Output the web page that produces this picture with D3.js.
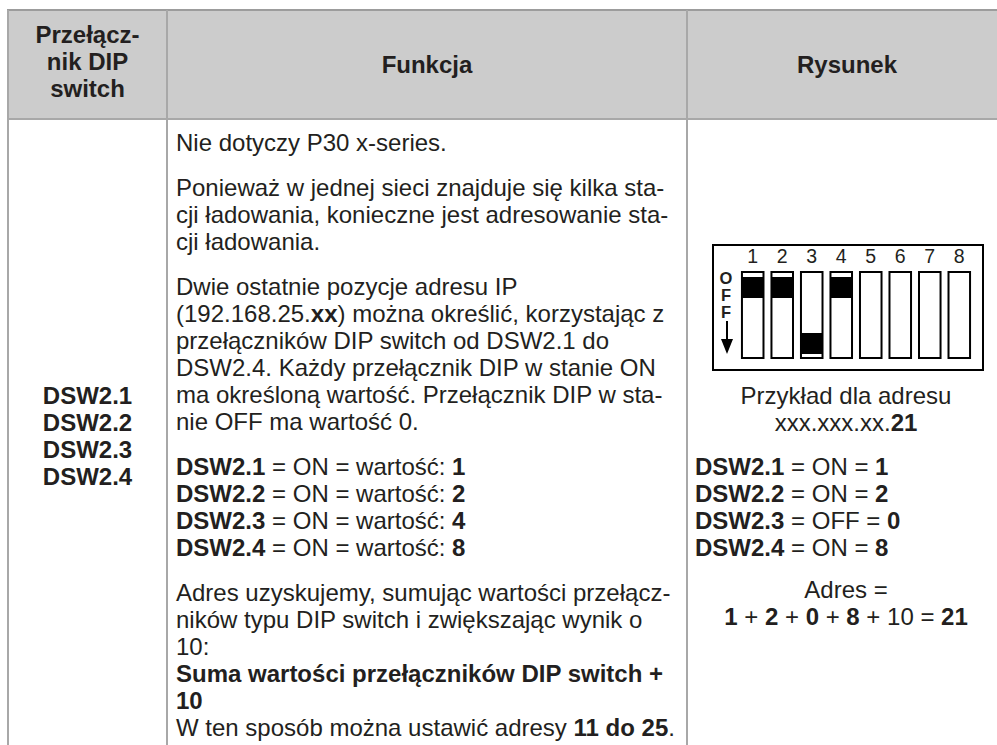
<!DOCTYPE html>
<html><head><meta charset="utf-8">
<script src="https://cdn.jsdelivr.net/npm/d3@7"></script>
<style>
html,body{margin:0;padding:0;background:#fff;}
svg{display:block;}
text{font-family:"Liberation Sans",Arial,Helvetica,sans-serif;fill:#231f20;white-space:pre;}
</style></head>
<body>
<svg id="c" width="997" height="745"></svg>
<script>
// ---- data ----
const headerCol1 = ["Przełącz-", "nik DIP", "switch"];
const headerCol2 = "Funkcja";
const headerCol3 = "Rysunek";
const leftLabels = ["DSW2.1", "DSW2.2", "DSW2.3", "DSW2.4"];
const funcParagraphs = [
  ["Nie dotyczy P30 x-series."],
  ["Ponieważ w jednej sieci znajduje się kilka sta-",
   "cji ładowania, konieczne jest adresowanie sta-",
   "cji ładowania."],
  ["Dwie ostatnie pozycje adresu IP",
   "(192.168.25.**xx**) można określić, korzystając z",
   "przełączników DIP switch od DSW2.1 do",
   "DSW2.4. Każdy przełącznik DIP w stanie ON",
   "ma określoną wartość. Przełącznik DIP w sta-",
   "nie OFF ma wartość 0."],
  ["**DSW2.1** = ON = wartość: **1**",
   "**DSW2.2** = ON = wartość: **2**",
   "**DSW2.3** = ON = wartość: **4**",
   "**DSW2.4** = ON = wartość: **8**"],
  ["Adres uzyskujemy, sumując wartości przełącz-",
   "ników typu DIP switch i zwiększając wynik o",
   "10:",
   "**Suma wartości przełączników DIP switch +**",
   "**10**",
   "W ten sposób można ustawić adresy **11 do 25**."]
];
const switchNumbers = ["1","2","3","4","5","6","7","8"];
const switchStates = ["ON","ON","OFF","ON",null,null,null,null];
const offLetters = ["O","F","F"];
const captionLines = ["Przykład dla adresu", "xxx.xxx.xx.**21**"];
const exampleLines = ["**DSW2.1** = ON = **1**", "**DSW2.2** = ON = **2**", "**DSW2.3** = OFF = **0**", "**DSW2.4** = ON = **8**"];
const sumLines = ["Adres =", "**1** + **2** + **0** + **8** + 10 = **21**"];

// ---- layout ----
const svg = d3.select("#c");
const W = 997, H = 745;
const colX = [8, 167, 687, 1007];
const tableTop = 10, headerBottom = 119;
const FS = 24, HFS = 24, LH = 27, PG = 18;
const borderColor = "#a8a8a8";

function seg(str){
  return str.split("**").map((t,i)=>({t, b: i%2===1})).filter(d=>d.t.length);
}
function richText(g, str, x, y, anchor, size, allBold){
  const t = g.append("text").attr("x", x).attr("y", y)
    .attr("text-anchor", anchor).attr("font-size", size);
  t.selectAll("tspan").data(seg(str)).join("tspan")
    .attr("font-weight", d => (d.b || allBold) ? "bold" : "normal")
    .text(d => d.t);
  return t;
}

// header background
svg.append("rect").attr("x", colX[0]).attr("y", tableTop)
  .attr("width", W - colX[0]).attr("height", headerBottom - tableTop)
  .attr("fill", "#cccccc");

// borders
const grid = svg.append("g").attr("stroke", borderColor).attr("stroke-width", 2).attr("fill", "none");
grid.append("line").attr("x1", colX[0]-1).attr("x2", W).attr("y1", tableTop).attr("y2", tableTop).attr("stroke", "#9c9c9c");
grid.append("line").attr("x1", colX[0]).attr("x2", W).attr("y1", headerBottom).attr("y2", headerBottom);
colX.slice(0,3).forEach(x => grid.append("line").attr("x1", x).attr("x2", x).attr("y1", tableTop).attr("y2", H));

// header text
const hdr = svg.append("g");
headerCol1.forEach((s,i) => richText(hdr, s, (colX[0]+colX[1])/2, 43 + i*LH, "middle", HFS, true));
richText(hdr, headerCol2, (colX[1]+colX[2])/2, 73, "middle", HFS, true);
richText(hdr, headerCol3, (colX[2]+colX[3])/2, 73, "middle", HFS, true);

// left column labels
const left = svg.append("g");
leftLabels.forEach((s,i) => richText(left, s, (colX[0]+colX[1])/2, 404 + i*LH, "middle", FS, true));

// function column
const fn = svg.append("g");
let y = 151;
funcParagraphs.forEach((p, pi) => {
  if (pi > 0) y += PG;
  p.forEach(line => { richText(fn, line, colX[1] + 9, y, "start", FS, false); y += LH; });
});

// DIP switch figure
const fig = svg.append("g");
const box = {x: 713, y: 245, w: 270, h: 125};
fig.append("rect").attr("x", box.x).attr("y", box.y).attr("width", box.w).attr("height", box.h)
  .attr("fill", "#fff").attr("stroke", "#000").attr("stroke-width", 2);
const sx = d3.scaleBand().domain(switchNumbers).range([739, 973]).paddingInner(0.27).paddingOuter(0.1);
const slotTop = 272, slotBot = 358;
const slots = fig.selectAll("g.slot").data(switchNumbers.map((n,i)=>({n, s: switchStates[i]}))).join("g");
slots.append("rect").attr("x", d => sx(d.n)).attr("y", slotTop)
  .attr("width", sx.bandwidth()).attr("height", slotBot - slotTop)
  .attr("fill", "#fff").attr("stroke", "#000").attr("stroke-width", 2);
slots.filter(d => d.s).append("rect")
  .attr("x", d => sx(d.n)).attr("width", sx.bandwidth())
  .attr("y", d => d.s === "ON" ? 277 : 333).attr("height", 21)
  .attr("fill", "#000");
slots.append("text").attr("x", d => sx(d.n) + sx.bandwidth()/2).attr("y", 263)
  .attr("text-anchor", "middle").attr("font-size", 19.5).text(d => d.n);
const offText = fig.append("text").attr("x", 726).attr("y", 284)
  .attr("text-anchor", "middle").attr("font-size", 16.5).attr("font-weight", "bold");
offText.selectAll("tspan").data(offLetters).join("tspan")
  .attr("x", 726).attr("dy", (d,i) => i === 0 ? 0 : 17).text(d => d);
fig.append("line").attr("x1", 727).attr("x2", 727).attr("y1", 321).attr("y2", 344).attr("stroke", "#000").attr("stroke-width", 2);
fig.append("path").attr("d", "M721,339 L733,339 L727,354 Z").attr("fill", "#000");

// right column text
const rc = svg.append("g");
const rcx = (colX[2]+colX[3])/2 - 1;
captionLines.forEach((s,i) => richText(rc, s, rcx, 404 + i*LH, "middle", FS, false));
exampleLines.forEach((s,i) => richText(rc, s, colX[2] + 8, 475 + i*LH, "start", FS, false));
sumLines.forEach((s,i) => richText(rc, s, rcx, 598 + i*LH, "middle", FS, false));
</script>
</body></html>
